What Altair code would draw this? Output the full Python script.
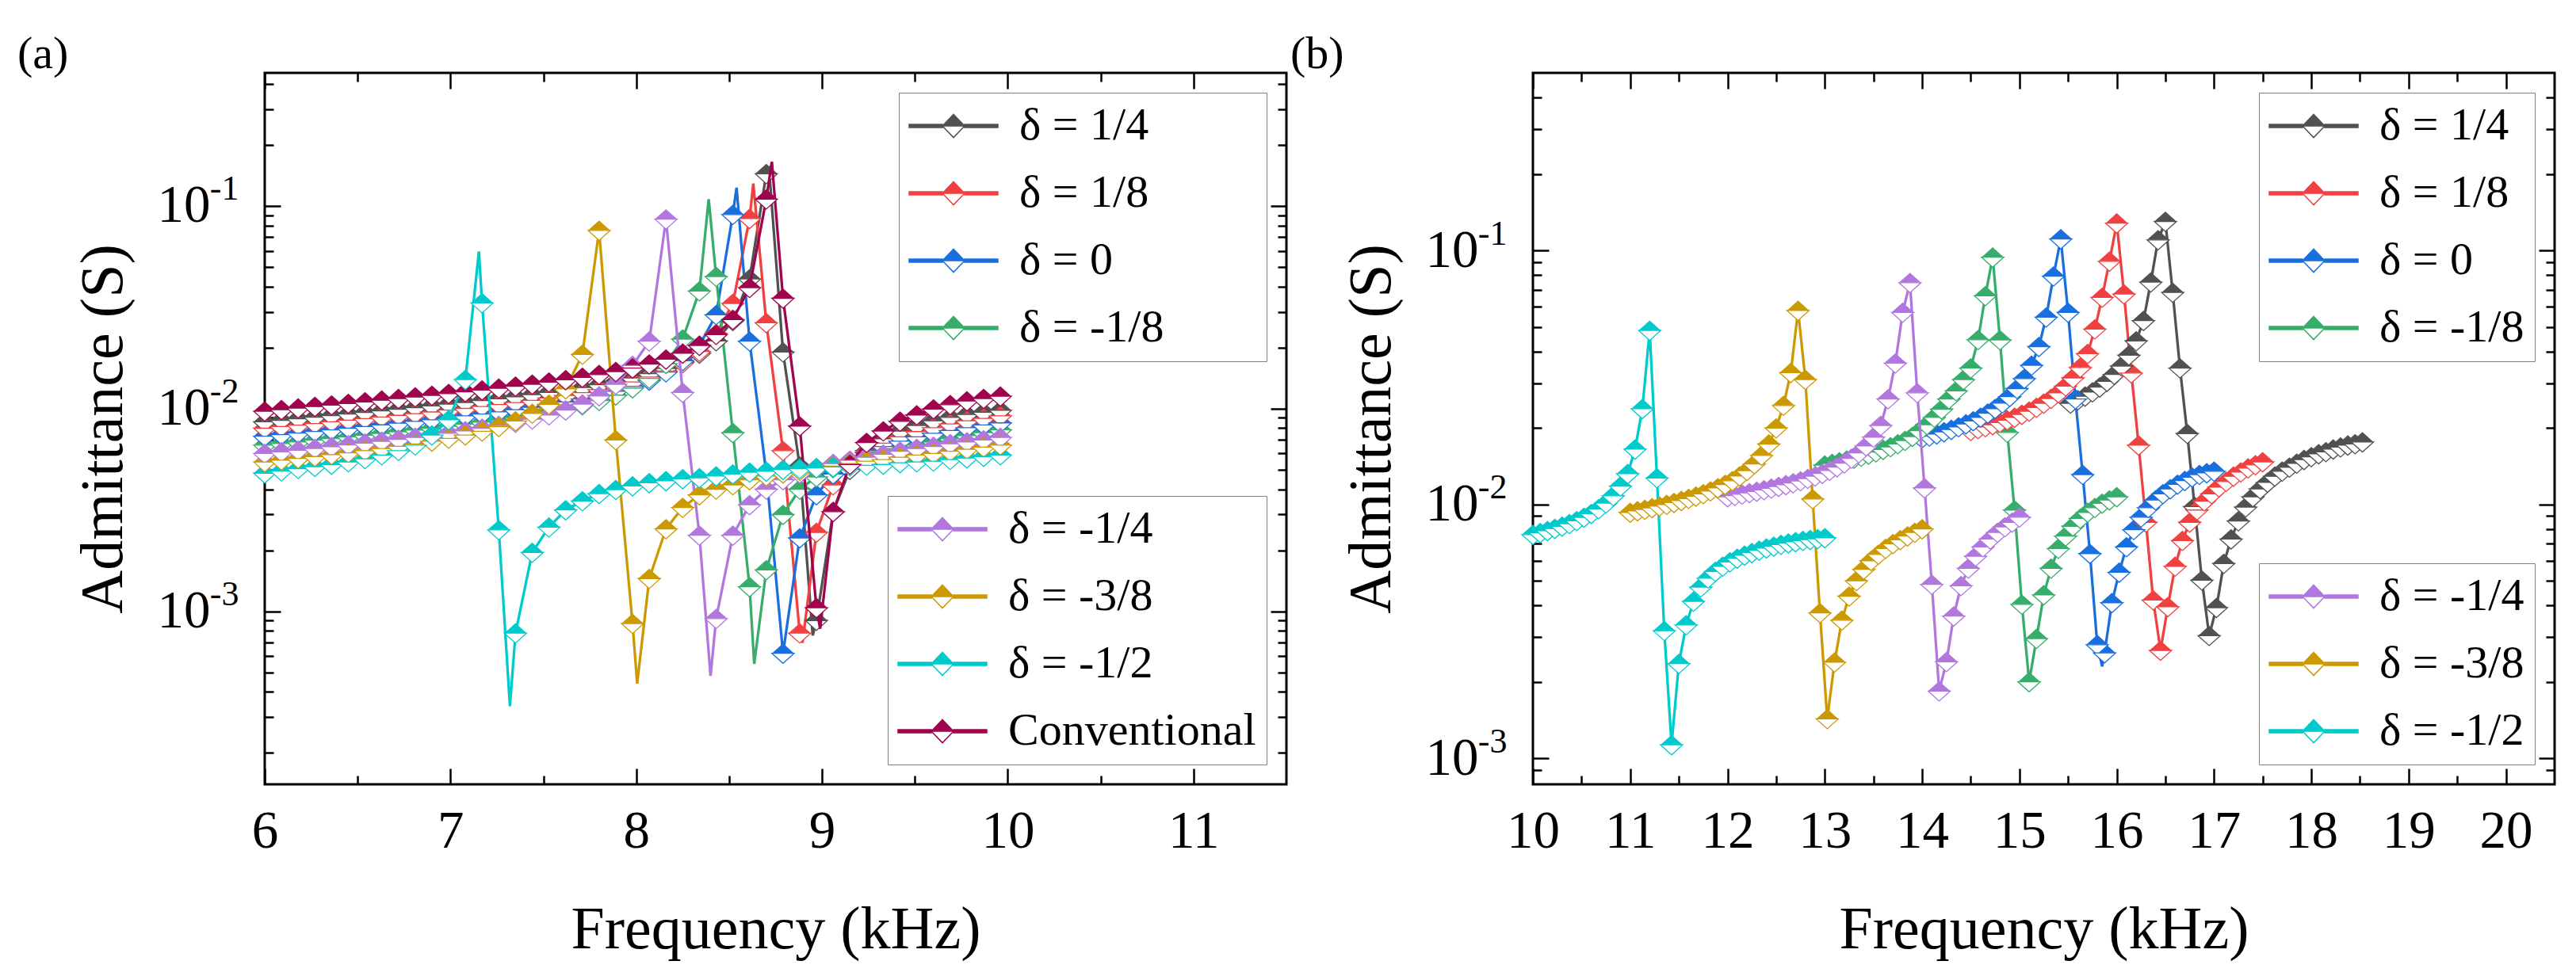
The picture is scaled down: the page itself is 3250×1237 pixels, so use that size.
import pandas as pd
import altair as alt

FONT = "Liberation Serif"

# panel (a): every curve is sampled on the same frequencies (kHz)
FREQ_A = [6.00, 6.09, 6.18, 6.27, 6.36, 6.45, 6.54, 6.63, 6.72, 6.81,
          6.90, 6.99, 7.08, 7.17, 7.26, 7.35, 7.44, 7.53, 7.62, 7.71,
          7.80, 7.89, 7.98, 8.07, 8.16, 8.25, 8.34, 8.43, 8.52, 8.61,
          8.70, 8.79, 8.88, 8.97, 9.06, 9.15, 9.24, 9.33, 9.42, 9.51,
          9.60, 9.69, 9.78, 9.87, 9.96]

# admittance (S)
A_D14 = [0.0086, 0.00875, 0.00891, 0.00907, 0.00923, 0.0094, 0.00957, 0.00974, 0.00993, 0.01011,
         0.01031, 0.01051, 0.01072, 0.01095, 0.01118, 0.01144, 0.01171, 0.01201, 0.01233, 0.0127,
         0.01311, 0.01359, 0.01416, 0.01486, 0.01576, 0.01697, 0.01873, 0.02156, 0.02714, 0.0436,
         0.144, 0.019, 0.0052, 0.0009, 0.0031, 0.005, 0.0062, 0.0071, 0.00775, 0.00825,
         0.0087, 0.00905, 0.00935, 0.0096, 0.0098]
A_D18 = [0.008, 0.00815, 0.00829, 0.00844, 0.0086, 0.00876, 0.00892, 0.00908, 0.00926, 0.00943,
         0.00962, 0.00982, 0.01002, 0.01024, 0.01047, 0.01071, 0.01098, 0.01128, 0.0116, 0.01197,
         0.0124, 0.01291, 0.01352, 0.0143, 0.01534, 0.01681, 0.01914, 0.02343, 0.033, 0.0865,
         0.0265, 0.0062, 0.00078, 0.00245, 0.0042, 0.0053, 0.0061, 0.00675, 0.00725, 0.0077,
         0.00805, 0.0084, 0.0087, 0.00895, 0.0092]
A_D0 = [0.0073, 0.00743, 0.00757, 0.00771, 0.00785, 0.008, 0.00815, 0.00831, 0.00847, 0.00864,
        0.00881, 0.009, 0.0092, 0.0094, 0.00963, 0.00987, 0.01014, 0.01043, 0.01077, 0.01115,
        0.01161, 0.01217, 0.01287, 0.0138, 0.01514, 0.01723, 0.0205, 0.029, 0.0906, 0.0215,
        0.0048, 0.00062, 0.0023, 0.00375, 0.00475, 0.0055, 0.00605, 0.0065, 0.0069, 0.00725,
        0.00755, 0.0078, 0.00805, 0.0083, 0.0085]
A_DM18 = [0.0066, 0.00672, 0.00685, 0.00698, 0.00711, 0.00724, 0.00738, 0.00753, 0.00768, 0.00784,
          0.008, 0.00818, 0.00837, 0.00857, 0.00879, 0.00903, 0.0093, 0.00961, 0.00998, 0.01041,
          0.01095, 0.01165, 0.01263, 0.01409, 0.01666, 0.022, 0.038, 0.0448, 0.0076, 0.00132,
          0.0016, 0.003, 0.004, 0.0046, 0.0051, 0.0055, 0.0058, 0.0061, 0.00635, 0.0066,
          0.00685, 0.0071, 0.00735, 0.0076, 0.00785]
A_DM14 = [0.006, 0.00612, 0.00623, 0.00636, 0.00648, 0.00661, 0.00675, 0.00689, 0.00704, 0.0072,
          0.00737, 0.00756, 0.00776, 0.00799, 0.00824, 0.00853, 0.00887, 0.00929, 0.00982, 0.01052,
          0.01154, 0.01316, 0.0163, 0.0215, 0.086, 0.012, 0.00237, 0.00092, 0.00237, 0.00335,
          0.004, 0.00445, 0.0048, 0.0051, 0.00535, 0.00555, 0.00575, 0.00595, 0.00615, 0.00635,
          0.0065, 0.0067, 0.00685, 0.007, 0.0072]
A_DM38 = [0.00545, 0.00556, 0.00568, 0.0058, 0.00592, 0.00605, 0.0062, 0.00635, 0.00651, 0.00669,
          0.0069, 0.00713, 0.0074, 0.00773, 0.00814, 0.00868, 0.00946, 0.0105, 0.0125, 0.0185,
          0.0757, 0.007, 0.00087, 0.00145, 0.00255, 0.00325, 0.00375, 0.004, 0.0042, 0.00445,
          0.00465, 0.0048, 0.00495, 0.0051, 0.0052, 0.00535, 0.0055, 0.0056, 0.00575, 0.0059,
          0.006, 0.00615, 0.0063, 0.00645, 0.0066]
A_DM12 = [0.0048, 0.00492, 0.00505, 0.00517, 0.0053, 0.00545, 0.00565, 0.0059, 0.0062, 0.0066,
          0.0074, 0.0088, 0.0139, 0.0332, 0.00252, 0.00078, 0.00195, 0.0026, 0.00316, 0.0035,
          0.0038, 0.00398, 0.00415, 0.0043, 0.0044, 0.0045, 0.00455, 0.00465, 0.00475, 0.00485,
          0.0049, 0.005, 0.00505, 0.0051, 0.00515, 0.0052, 0.00525, 0.0053, 0.0054, 0.00545,
          0.0055, 0.0056, 0.0057, 0.0058, 0.0059]
A_CONV = [0.0097, 0.00987, 0.01005, 0.01023, 0.01041, 0.0106, 0.01079, 0.01099, 0.01119, 0.0114,
          0.01162, 0.01185, 0.01208, 0.01233, 0.0126, 0.01288, 0.01318, 0.0135, 0.01386, 0.01426,
          0.01471, 0.01522, 0.01583, 0.01657, 0.01751, 0.01873, 0.02048, 0.02317, 0.0275, 0.0395,
          0.108, 0.035, 0.0082, 0.00104, 0.0031, 0.0053, 0.0068, 0.00775, 0.00865, 0.0093,
          0.00995, 0.01045, 0.0109, 0.0112, 0.0115]

# peaks and dips the lines reach between two markers
A_TURNS = [("δ = -1/2", 7.153, 0.0595), ("δ = -1/2", 7.32, 0.00034),
           ("δ = -3/8", 8.005, 0.00044),
           ("δ = -1/4", 8.40, 0.00048),
           ("δ = -1/8", 8.39, 0.108), ("δ = -1/8", 8.635, 0.00055),
           ("δ = 0", 8.54, 0.123),
           ("δ = 1/8", 8.63, 0.129), ("δ = 1/8", 8.895, 0.0007),
           ("δ = 1/4", 8.715, 0.152), ("δ = 1/4", 8.95, 0.00076),
           ("Conventional", 8.73, 0.165), ("Conventional", 8.99, 0.00082)]

# panel (b): each curve covers 3 kHz from its own start
B_STEPS = [0.0, 0.075, 0.15, 0.225, 0.3, 0.375, 0.45, 0.525, 0.6, 0.675,
           0.75, 0.825, 0.9, 0.975, 1.05, 1.125, 1.2, 1.275, 1.35, 1.425,
           1.5, 1.575, 1.65, 1.725, 1.8, 1.875, 1.95, 2.025, 2.1, 2.175,
           2.25, 2.325, 2.4, 2.475, 2.55, 2.625, 2.7, 2.775, 2.85, 2.925, 3.0]
B_START = {"δ = -1/2": 10.0, "δ = -3/8": 11.0, "δ = -1/4": 12.0, "δ = -1/8": 13.0,
           "δ = 0": 14.0, "δ = 1/8": 14.5, "δ = 1/4": 15.525}

B_DM12 = [0.0076, 0.00773, 0.00787, 0.00803, 0.0082, 0.00839, 0.00862, 0.00889, 0.0092, 0.0096,
          0.01011, 0.01081, 0.0118, 0.0132, 0.0165, 0.0238, 0.0484, 0.0127, 0.00318, 0.00113,
          0.00236, 0.00335, 0.00415, 0.00472, 0.00512, 0.00544, 0.0057, 0.00593, 0.00613, 0.0063,
          0.00645, 0.00659, 0.00672, 0.00684, 0.00695, 0.00704, 0.00712, 0.0072, 0.00726, 0.00732,
          0.00738]
B_DM38 = [0.0093, 0.00942, 0.00955, 0.00969, 0.00984, 0.00999, 0.01016, 0.01034, 0.01054, 0.01076,
          0.011, 0.01128, 0.0116, 0.01196, 0.01239, 0.01292, 0.01358, 0.01443, 0.01559, 0.01728,
          0.01998, 0.0245, 0.033, 0.058, 0.031, 0.0105, 0.00374, 0.00143, 0.00239, 0.0035,
          0.00435, 0.005, 0.00555, 0.006, 0.00635, 0.0067, 0.007, 0.00725, 0.0075, 0.00775,
          0.008]
B_DM14 = [0.0107, 0.01083, 0.01096, 0.0111, 0.01125, 0.0114, 0.01157, 0.01175, 0.01194, 0.01215,
          0.01237, 0.01263, 0.01291, 0.01323, 0.0136, 0.01403, 0.01454, 0.01517, 0.01595, 0.01698,
          0.01838, 0.02045, 0.026, 0.036, 0.057, 0.0746, 0.0275, 0.0116, 0.00484, 0.00184,
          0.0024, 0.00363, 0.00478, 0.0056, 0.00625, 0.0068, 0.0073, 0.00775, 0.00815, 0.0085,
          0.0089]
B_DM18 = [0.01426, 0.01447, 0.01469, 0.01492, 0.01517, 0.01545, 0.01574, 0.01607, 0.01644, 0.01684,
          0.0173, 0.01783, 0.0185, 0.0195, 0.0206, 0.022, 0.0237, 0.026, 0.028, 0.031,
          0.0344, 0.0445, 0.0663, 0.094, 0.0444, 0.0192, 0.0095, 0.00404, 0.002, 0.00296,
          0.0044, 0.0056, 0.0067, 0.0075, 0.0082, 0.0088, 0.0093, 0.0097, 0.0101, 0.0104,
          0.0107]
B_D0 = [0.01824, 0.01856, 0.01891, 0.01929, 0.01971, 0.02018, 0.02072, 0.02132, 0.02202, 0.02285,
        0.02383, 0.02505, 0.02657, 0.02856, 0.03129, 0.0353, 0.0418, 0.0546, 0.0792, 0.111,
        0.057, 0.026, 0.0131, 0.0064, 0.0028, 0.0026, 0.0041, 0.0054, 0.0068, 0.00795,
        0.0089, 0.0097, 0.0104, 0.011, 0.0115, 0.012, 0.0124, 0.0128, 0.0131, 0.0133,
        0.0135]
B_D18 = [0.0195, 0.01983, 0.02018, 0.02057, 0.021, 0.02147, 0.02199, 0.02259, 0.02327, 0.02406,
         0.02499, 0.0261, 0.02747, 0.02921, 0.03147, 0.0346, 0.0392, 0.049, 0.0653, 0.0906,
         0.128, 0.0673, 0.0329, 0.0171, 0.0085, 0.0042, 0.00266, 0.00395, 0.0057, 0.0072,
         0.0085, 0.0095, 0.0103, 0.011, 0.0117, 0.0123, 0.0129, 0.0134, 0.0139, 0.0143,
         0.0147]
B_D14 = [0.025, 0.02576, 0.02664, 0.02768, 0.02894, 0.03049, 0.03246, 0.03506, 0.03867, 0.04403,
         0.0529, 0.075, 0.11, 0.13, 0.0683, 0.0344, 0.019, 0.0098, 0.00503, 0.00304,
         0.00392, 0.00585, 0.0073, 0.0086, 0.00975, 0.0107, 0.0115, 0.0122, 0.0129, 0.0135,
         0.014, 0.0145, 0.015, 0.0154, 0.0158, 0.0161, 0.0165, 0.0168, 0.0171, 0.0173,
         0.0176]
B_TURNS = [("δ = 0", 15.85, 0.0023)]

COLORS = {"δ = 1/4": "#515151", "δ = 1/8": "#F14040", "δ = 0": "#1A6FDF",
          "δ = -1/8": "#37AD6B", "δ = -1/4": "#B177DE", "δ = -3/8": "#CC9900",
          "δ = -1/2": "#00CBCC", "Conventional": "#A1044F"}
UPPER_KEYS = ["δ = 1/4", "δ = 1/8", "δ = 0", "δ = -1/8"]
LOWER_KEYS_A = ["δ = -1/4", "δ = -3/8", "δ = -1/2", "Conventional"]
LOWER_KEYS_B = ["δ = -1/4", "δ = -3/8", "δ = -1/2"]

# half-filled diamond: filled upper half, open lower half
TOP_HALF = "M-1,0L0,-0.9L1,0Z"
BOTTOM_HALF = "M-1,0L0,0.9L1,0Z"
# legend key: line with the diamond in the middle (the lower half encloses no area)
KEY_SHAPE = ("M-2,-0.07L-0.5,-0.07L-0.5,0.07L-2,0.07Z "
             "M0.5,-0.07L2,-0.07L2,0.07L0.5,0.07Z "
             "M-0.5,0L0,-0.52L0.5,0Z "
             "M-0.5,0L0,0.52L0.5,0L0,0.52Z")
# decade labels: base and raised exponent are drawn by two axes
BASE_LABEL = "'10'"
EXP_LABEL = "datum.value < 0.005 ? '-3' : (datum.value < 0.05 ? '-2' : '-1')"


def build_rows(freqs, values, turns):
    rows = []
    for name, ys in values.items():
        for f, y in zip(freqs[name], ys):
            rows.append({"series": name, "f": f, "y": y, "marker": True})
    for name, f, y in turns:
        rows.append({"series": name, "f": f, "y": y, "marker": False})
    return pd.DataFrame(rows)


def tick_axis(orient, values, length, title=None, label_expr=None):
    # ticks point inward: the axis sits `length` px inside and its ticks reach the frame
    props = dict(orient=orient, values=values, tickSize=length, offset=-length,
                 tickWidth=2.5, tickColor="black", domain=False, grid=False,
                 labels=title is not None, title=title)
    if title is not None:
        left = orient == "left"
        props.update(labelFont=FONT, labelFontSize=67, labelColor="black",
                     labelPadding=69 if left else 26, labelFlush=False,
                     labelOverlap=False, labelBound=False,
                     titleFont=FONT, titleFontSize=76, titleFontWeight="normal",
                     titleColor="black", titlePadding=29 if left else 54)
        if label_expr:
            props["labelExpr"] = label_expr
    return alt.Axis(**props)


def exponent_axis(values):
    return alt.Axis(orient="left", values=values, ticks=False, tickSize=0, domain=False,
                    grid=False, title=None, labelExpr=EXP_LABEL, labelFont=FONT,
                    labelFontSize=44, labelColor="black", labelPadding=33,
                    labelOffset=-21, labelBound=False, labelOverlap=False, labelFlush=False)


def key_legend(orient, pad=0):
    props = dict(title=None, orient=orient, offset=25, symbolType=KEY_SHAPE,
                 symbolSize=3136, symbolStrokeWidth=1.5, symbolOffset=27,
                 labelOffset=54, labelFont=FONT, labelFontSize=58, labelColor="black",
                 labelLimit=1000, rowPadding=27, padding=13,
                 strokeColor="#808080", fillColor="white")
    if pad:
        # keeps the box as wide as its neighbour; the zero-width space stops trimming
        props["labelExpr"] = "datum.label + '" + "\u00a0" * pad + "\u200b'"
    return alt.Legend(**props)


def make_panel(data, groups, x_dom, y_dom, x_major, x_minor, y_major, y_minor, tag, dx):
    xs = alt.Scale(domain=x_dom, nice=False, zero=False)
    ys = alt.Scale(type="log", domain=y_dom, nice=False)
    frame = [
        (tick_axis("bottom", x_major, 20, "Frequency (kHz)"),
         tick_axis("left", y_major, 20, "Admittance (S)", BASE_LABEL)),
        (tick_axis("bottom", x_minor, 11), tick_axis("left", y_minor, 11)),
        (tick_axis("top", x_major, 20), tick_axis("right", y_major, 20)),
        (tick_axis("top", x_minor, 11), tick_axis("right", y_minor, 11)),
        (None, exponent_axis(y_major)),
    ]
    layers = []
    for (names, orient, pad), (xa, ya) in zip(groups, frame[:2]):
        sub = data[data["series"].isin(names)]
        dots = sub[sub["marker"]]
        palette = [COLORS[n] for n in names]
        key = key_legend(orient, pad)
        x = alt.X("f:Q", scale=xs, axis=xa)
        y = alt.Y("y:Q", scale=ys, axis=ya)
        line = alt.Chart(sub).mark_line().encode(
            x=x, y=y,
            stroke=alt.Stroke("series:N", scale=alt.Scale(domain=names, range=palette), legend=key),
            strokeWidth=alt.value(3.3),
        )
        upper = alt.Chart(dots).mark_point(shape=TOP_HALF, filled=True, size=784, opacity=1).encode(
            x=x, y=y,
            fill=alt.Fill("series:N", scale=alt.Scale(domain=names, range=palette), legend=key),
        )
        lower = alt.Chart(dots).mark_point(shape=BOTTOM_HALF, fill="white", size=784,
                                           opacity=1, strokeWidth=1.3).encode(
            x=x, y=y,
            stroke=alt.Stroke("series:N", scale=alt.Scale(domain=names, range=palette), legend=None),
        )
        layers.append(alt.layer(line, upper, lower))
    # mirrored ticks on the top and right edges, and the exponents of the decade labels
    for xa, ya in frame[2:]:
        layers.append(alt.Chart(data).mark_point(opacity=0).encode(
            x=alt.X("f:Q", scale=xs, axis=xa),
            y=alt.Y("y:Q", scale=ys, axis=ya),
        ))
    return alt.layer(*layers).resolve_scale(
        fill="independent", stroke="independent"
    ).resolve_axis(x="independent", y="independent").properties(
        width=1289, height=898,
        title=alt.TitleParams(tag, anchor="start", frame="group", dx=dx, offset=-53,
                              baseline="alphabetic", font=FONT, fontSize=58,
                              fontWeight="normal", color="black"),
    )


values_a = {"δ = 1/4": A_D14, "δ = 1/8": A_D18, "δ = 0": A_D0, "δ = -1/8": A_DM18,
            "δ = -1/4": A_DM14, "δ = -3/8": A_DM38, "δ = -1/2": A_DM12, "Conventional": A_CONV}
data_a = build_rows({k: FREQ_A for k in values_a}, values_a, A_TURNS)

values_b = {"δ = 1/4": B_D14, "δ = 1/8": B_D18, "δ = 0": B_D0, "δ = -1/8": B_DM18,
            "δ = -1/4": B_DM14, "δ = -3/8": B_DM38, "δ = -1/2": B_DM12}
freqs_b = {k: [round(B_START[k] + s, 3) for s in B_STEPS] for k in values_b}
data_b = build_rows(freqs_b, values_b, B_TURNS)

minor_a = [2e-4, 3e-4, 4e-4, 5e-4, 6e-4, 7e-4, 8e-4, 9e-4,
           2e-3, 3e-3, 4e-3, 5e-3, 6e-3, 7e-3, 8e-3, 9e-3,
           0.02, 0.03, 0.04, 0.05, 0.06, 0.07, 0.08, 0.09, 0.2, 0.3, 0.4]
minor_b = [9e-4, 2e-3, 3e-3, 4e-3, 5e-3, 6e-3, 7e-3, 8e-3, 9e-3,
           0.02, 0.03, 0.04, 0.05, 0.06, 0.07, 0.08, 0.09, 0.2, 0.3, 0.4]

panel_a = make_panel(
    data_a,
    [(UPPER_KEYS, "top-right", 8), (LOWER_KEYS_A, "bottom-right", 0)],
    [6, 11.5], [1.4e-4, 0.453],
    [6, 7, 8, 9, 10, 11], [6.5, 7.5, 8.5, 9.5, 10.5],
    [0.001, 0.01, 0.1], minor_a, "(a)", -312,
)
panel_b = make_panel(
    data_b,
    [(UPPER_KEYS, "top-right", 0), (LOWER_KEYS_B, "bottom-right", 0)],
    [10, 20.5], [7.9e-4, 0.5],
    [10, 11, 12, 13, 14, 15, 16, 17, 18, 19, 20],
    [10.5, 11.5, 12.5, 13.5, 14.5, 15.5, 16.5, 17.5, 18.5, 19.5],
    [0.001, 0.01, 0.1], minor_b, "(b)", -306,
)

chart = alt.hconcat(panel_a, panel_b, spacing=0).properties(
    padding={"left": 12, "top": 30, "right": 4, "bottom": 4}
).configure_view(stroke="black", strokeWidth=3)

chart.save("out.html", embed_options={"renderer": "svg", "actions": False})
